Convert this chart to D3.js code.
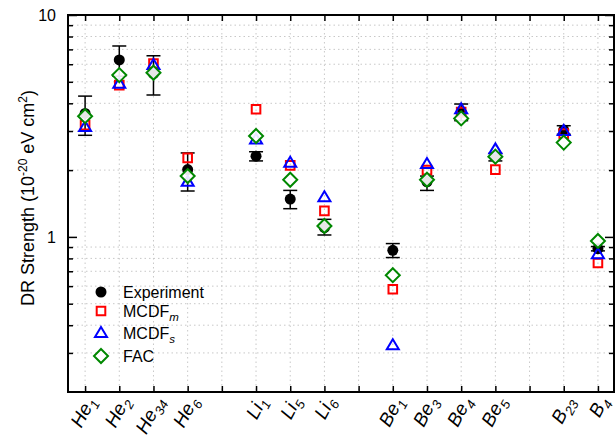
<!DOCTYPE html>
<html><head><meta charset="utf-8">
<script src="https://cdn.jsdelivr.net/npm/d3@7"></script>
<style>body{margin:0;background:#fff}svg{display:block}text{font-family:"Liberation Sans",Arial,sans-serif}</style>
</head><body><svg id="c" width="616" height="437"></svg>
<script>
const positions = [1,2,3,4,6,7,8,10,11,12,13,15,16];
const labelBase = ["He","He","He","He","Li","Li","Li","Be","Be","Be","Be","B","B"];
const labelSub  = ["1","2","34","6","1","5","6","1","3","4","5","23","4"];
const experiment = [3.60,6.27,5.45,2.01,2.31,1.48,1.10,0.87,1.77,3.65,2.30,3.03,0.885];
const expLow     = [2.87,5.30,4.36,1.61,2.20,1.34,1.02,0.807,1.62,3.34,2.20,2.90,0.865];
const expHigh    = [4.31,7.25,6.55,2.39,2.42,1.62,1.20,0.933,1.88,3.97,2.38,3.17,0.905];
const mcdfM = [3.19,4.83,6.05,2.27,3.76,2.10,1.31,0.581,2.00,3.65,2.01,2.92,0.763];
const mcdfS = [3.13,4.90,5.95,1.77,2.75,2.16,1.51,0.325,2.13,3.76,2.48,3.00,0.836];
const fac   = [3.50,5.36,5.49,1.88,2.85,1.81,1.12,0.672,1.81,3.42,2.30,2.66,0.959];
const xTicks = d3.range(1,17);
const yMinor = [0.3,0.4,0.5,0.6,0.7,0.8,0.9,2,3,4,5,6,7,8,9];
const yMajor = [1,10];

const svg = d3.select("#c");
const L=68,R=614,T=15,B=392;
const x = d3.scaleLinear().domain([0.5,16.47]).range([L,R]);
const y = d3.scaleLog().domain([0.2,10]).range([B,T]);

// grid
const g = svg.append("g");
g.selectAll(".hg").data(yMinor).join("line")
 .attr("x1",L).attr("x2",R).attr("y1",d=>y(d)).attr("y2",d=>y(d))
 .attr("stroke","#c8c8c8").attr("stroke-width",1).attr("stroke-dasharray","1.5,3");
g.selectAll(".vg").data(xTicks).join("line")
 .attr("y1",T).attr("y2",B).attr("x1",d=>x(d)).attr("x2",d=>x(d))
 .attr("stroke","#c8c8c8").attr("stroke-width",1).attr("stroke-dasharray","1.5,3");

// axes with inward ticks
const axL = d3.axisLeft(y).tickValues(yMinor).tickSize(-5).tickFormat("");
const axR = d3.axisRight(y).tickValues(yMinor).tickSize(-5).tickFormat("");
const axL2 = d3.axisLeft(y).tickValues(yMajor).tickSize(-9).tickFormat(d3.format("d")).tickPadding(12);
const axR2 = d3.axisRight(y).tickValues(yMajor).tickSize(-9).tickFormat("");
const axB = d3.axisBottom(x).tickValues(xTicks).tickSize(-6).tickFormat("");
const axT = d3.axisTop(x).tickValues(xTicks).tickSize(-6).tickFormat("");
function styleAx(sel){sel.selectAll("path").remove();sel.selectAll("line").attr("stroke","#000").attr("stroke-width",1.5);}
svg.append("g").attr("transform",`translate(${L},0)`).call(axL).call(styleAx);
svg.append("g").attr("transform",`translate(${R},0)`).call(axR).call(styleAx);
const gl2 = svg.append("g").attr("transform",`translate(${L},0)`).call(axL2).call(styleAx);
gl2.selectAll("text").attr("font-size",16).attr("fill","#000").attr("font-family","Liberation Sans, Arial, sans-serif");
svg.append("g").attr("transform",`translate(${R},0)`).call(axR2).call(styleAx);
svg.append("g").attr("transform",`translate(0,${B})`).call(axB).call(styleAx);
svg.append("g").attr("transform",`translate(0,${T})`).call(axT).call(styleAx);
svg.append("rect").attr("x",L).attr("y",T).attr("width",R-L).attr("height",B-T)
 .attr("fill","none").attr("stroke","#000").attr("stroke-width",2);

// x labels (rotated)
positions.forEach((p,i)=>{
  const t = svg.append("text").attr("transform",`translate(${x(p)+11},${B+9}) rotate(-62)`)
   .attr("text-anchor","end").attr("font-size",19).attr("font-style","italic").attr("fill","#000");
  t.append("tspan").text(labelBase[i]);
  t.append("tspan").attr("font-size",13).attr("dy",5).text(labelSub[i]);
});

// y label
const yl = svg.append("text").attr("transform","translate(34,198) rotate(-90)")
 .attr("text-anchor","middle").attr("font-size",18).attr("fill","#000");
yl.append("tspan").text("DR Strength (10");
yl.append("tspan").attr("font-size",12).attr("dy",-7).text("-20");
yl.append("tspan").attr("dy",7).text(" eV cm");
yl.append("tspan").attr("font-size",12).attr("dy",-7).text("2");
yl.append("tspan").attr("dy",7).text(")");

// error bars
const eb = svg.append("g").attr("stroke","#000").attr("stroke-width",1.5);
positions.forEach((p,i)=>{
  eb.append("line").attr("x1",x(p)).attr("x2",x(p)).attr("y1",y(expLow[i])).attr("y2",y(expHigh[i]));
  [expLow[i],expHigh[i]].forEach(v=>eb.append("line").attr("x1",x(p)-7).attr("x2",x(p)+7).attr("y1",y(v)).attr("y2",y(v)));
});

const idx = d3.range(positions.length);
const circ = d3.symbol().type(d3.symbolCircle).size(95);
svg.append("g").selectAll("path").data(idx).join("path")
 .attr("d",circ).attr("transform",i=>`translate(${x(positions[i])},${y(experiment[i])})`).attr("fill","#000");
function sq(s){return `M${-s},${-s}H${s}V${s}H${-s}Z`;}
function tri(w,h){return `M0,${-h*0.6}L${w/2},${h*0.4}L${-w/2},${h*0.4}Z`;}
function dia(w){return `M0,${-w/2}L${w/2},0L0,${w/2}L${-w/2},0Z`;}
svg.append("g").selectAll("path").data(idx).join("path")
 .attr("d",sq(4.3)).attr("transform",i=>`translate(${x(positions[i])},${y(mcdfM[i])})`)
 .attr("fill","none").attr("stroke","#ff0000").attr("stroke-width",2);
svg.append("g").selectAll("path").data(idx).join("path")
 .attr("d",tri(12,10)).attr("transform",i=>`translate(${x(positions[i])},${y(mcdfS[i])})`)
 .attr("fill","none").attr("stroke","#0000ff").attr("stroke-width",2);
svg.append("g").selectAll("path").data(idx).join("path")
 .attr("d",dia(14)).attr("transform",i=>`translate(${x(positions[i])},${y(fac[i])})`)
 .attr("fill","#fff").attr("fill-opacity",0.9).attr("stroke","#008800").attr("stroke-width",2);

// legend
const leg = svg.append("g");
const ly = [292,311,333,356];
const lx = 101;
leg.append("path").attr("d",circ).attr("transform",`translate(${lx},${ly[0]})`).attr("fill","#000");
leg.append("path").attr("d",sq(4.3)).attr("transform",`translate(${lx},${ly[1]})`).attr("fill","none").attr("stroke","#ff0000").attr("stroke-width",2);
leg.append("path").attr("d",tri(12,10)).attr("transform",`translate(${lx},${ly[2]})`).attr("fill","none").attr("stroke","#0000ff").attr("stroke-width",2);
leg.append("path").attr("d",dia(14)).attr("transform",`translate(${lx},${ly[3]})`).attr("fill","#fff").attr("stroke","#008800").attr("stroke-width",2);
const names = [["Experiment",""],["MCDF","m"],["MCDF","s"],["FAC",""]];
names.forEach((n,i)=>{
  const t = leg.append("text").attr("x",123).attr("y",ly[i]+5.5).attr("font-size",16).attr("fill","#000");
  t.append("tspan").text(n[0]);
  if(n[1]) t.append("tspan").attr("font-size",11.5).attr("font-style","italic").attr("dy",4).text(n[1]);
});
</script></body></html>
